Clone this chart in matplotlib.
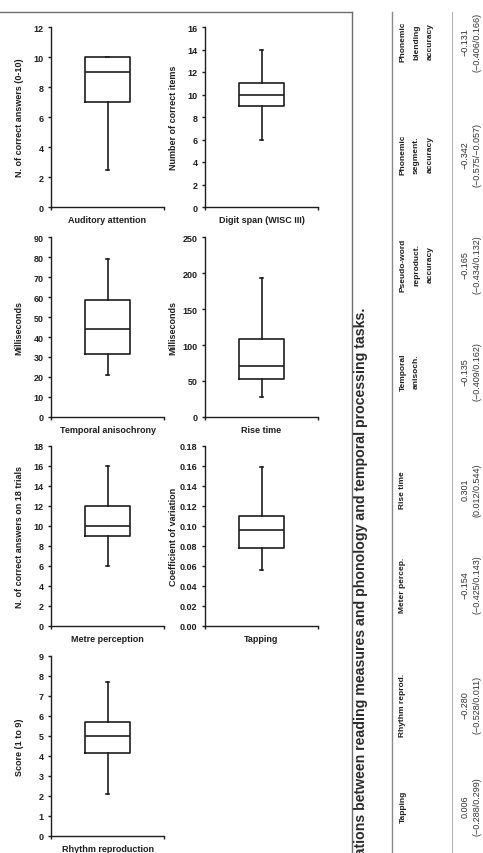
import numpy as np
import matplotlib.pyplot as plt
from matplotlib.ticker import FormatStrFormatter

plt.rcParams['font.family'] = ['Liberation Sans', 'DejaVu Sans']
plt.rcParams['font.weight'] = 'bold'

# box plot panels: lower whisker, q1, median, q3, upper whisker
panel_names = ['Auditory attention', 'Digit span (WISC III)', 'Temporal anisochrony', 'Rise time',
               'Metre perception', 'Tapping', 'Rhythm reproduction']
panel_ylabels = ['N. of correct answers (0-10)', 'Number of correct items', 'Milliseconds',
                 'Milliseconds', 'N. of correct answers on 18 trials', 'Coefficient of variation',
                 'Score (1 to 9)']
whislo = [2.5, 6, 21, 28, 6, 0.056, 2.1]
q1 = [7, 9, 31.5, 53, 9, 0.078, 4.15]
med = [9, 10, 44, 71, 10, 0.096, 5.0]
q3 = [10, 11, 58.5, 109, 12, 0.110, 5.7]
whishi = [10, 14, 79, 193, 16, 0.159, 7.7]
ymax = [12, 16, 90, 250, 18, 0.18, 9]
ystep = [2, 2, 10, 50, 2, 0.02, 1]

# rotated table on the right of the page
table_title = 'Correlations between reading measures and phonology and temporal processing tasks.'
col_heads = [['Tapping'], ['Rhythm reprod.'], ['Meter percep.'], ['Rise time'],
             ['Temporal', 'anisoch.'], ['Pseudo-word', 'reproduct.', 'accuracy'],
             ['Phonemic', 'segment.', 'accuracy'], ['Phonemic', 'blending', 'accuracy']]
r_vals = ['0.006', '\u22120.280', '\u22120.154', '0.301', '\u22120.135', '\u22120.165',
          '\u22120.342', '\u22120.131']
r_ci = ['(\u22120.288/0.299)', '(\u22120.528/0.011)', '(\u22120.425/0.143)', '(0.012/0.544)',
        '(\u22120.409/0.162)', '(\u22120.434/0.132)', '(\u22120.575/\u22120.057)',
        '(\u22120.406/0.166)']

W, H = 483, 854
fig = plt.figure(figsize=(W / 100, H / 100), dpi=100)

ink = '#1e1e1e'
col_x = [51, 205]
row_top = [28, 238, 447, 657]
ax_w, ax_h = 113, 180

for i in range(len(panel_names)):
    r, c = divmod(i, 2)
    ax = fig.add_axes([col_x[c] / W, 1 - (row_top[r] + ax_h) / H, ax_w / W, ax_h / H])
    st = [dict(whislo=whislo[i], q1=q1[i], med=med[i], q3=q3[i], whishi=whishi[i])]
    lp = dict(color=ink, linewidth=1.2)
    ax.bxp(st, positions=[1], widths=0.4, capwidths=0.035, showfliers=False,
           boxprops=lp, whiskerprops=lp, capprops=lp, medianprops=lp)
    ax.set_xlim(0.5, 1.5)
    ax.set_ylim(0, ymax[i])
    ax.set_yticks(np.arange(0, ymax[i] + ystep[i] / 2, ystep[i]))
    if ystep[i] < 1:
        ax.yaxis.set_major_formatter(FormatStrFormatter('%.2f'))
    else:
        ax.yaxis.set_major_formatter(FormatStrFormatter('%d'))
    ax.set_xticks([0.5, 1.5])
    ax.set_xticklabels(['', ''])
    for s in ['top', 'right']:
        ax.spines[s].set_visible(False)
    for s in ['left', 'bottom']:
        ax.spines[s].set_linewidth(1.0)
        ax.spines[s].set_color(ink)
    ax.tick_params(direction='out', length=2.5, width=1.0, colors=ink, labelsize=6.5, pad=3)
    for t in ax.get_yticklabels():
        t.set_fontweight('bold')
    ax.set_ylabel(panel_ylabels[i], fontsize=6.5, fontweight='bold', color=ink, va='center')
    ax.yaxis.set_label_coords(-0.28, 0.5)
    ax.set_xlabel(panel_names[i], fontsize=6.5, fontweight='bold', color=ink, va='center')
    ax.xaxis.set_label_coords(0.5, -0.068)
    ax.patch.set_alpha(0)

# page decoration and rotated table, in pixel coordinates
page = fig.add_axes([0, 0, 1, 1], zorder=-1)
page.set_xlim(0, W)
page.set_ylim(H, 0)
page.axis('off')
page.plot([0, 352], [13, 13], color='#6e6e6e', lw=1.0)
page.plot([352, 352], [13, H], color='#6e6e6e', lw=1.0)
page.plot([392, 392], [13, H], color='#8a8a8a', lw=1.0)
page.plot([452, 452], [13, H], color='#b5b5b5', lw=0.8)

page.text(361, 308, table_title, rotation=90, rotation_mode='anchor', ha='right', va='center',
          fontsize=10.2, fontweight='bold', color='#2a2a2a')

col_centre = [807, 705, 585, 490, 372, 265, 155, 42]
for j, heads in enumerate(col_heads):
    for k, line in enumerate(heads):
        page.text(403 + 13.5 * k, col_centre[j], line, rotation=90, rotation_mode='anchor',
                  ha='center', va='center', fontsize=6.0, fontweight='bold', color=ink)
    page.text(465, col_centre[j], r_vals[j], rotation=90, rotation_mode='anchor',
              ha='center', va='center', fontsize=6.5, fontweight='normal', color='#333333')
    page.text(477, col_centre[j], r_ci[j], rotation=90, rotation_mode='anchor',
              ha='center', va='center', fontsize=6.5, fontweight='normal', color='#333333')

fig.savefig('out.png', dpi=100)
